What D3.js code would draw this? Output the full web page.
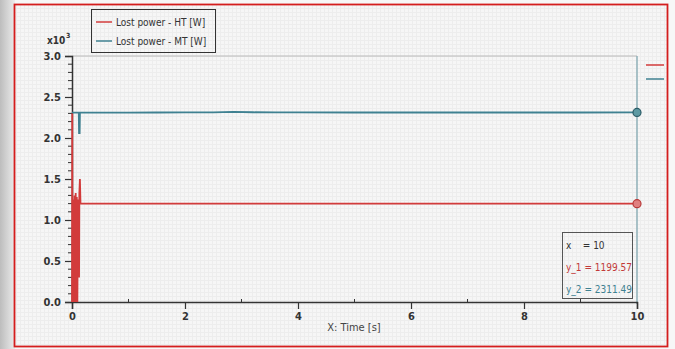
<!DOCTYPE html>
<html><head><meta charset="utf-8">
<script src="https://cdn.jsdelivr.net/npm/d3@7"></script>
<style>
html,body{margin:0;padding:0;background:#fff;}
svg{display:block;}
text{font-family:"Liberation Sans Narrow","DejaVu Sans Condensed","Liberation Sans",sans-serif;white-space:pre;}
</style></head>
<body>
<svg id="c" width="675" height="349"></svg>
<script>
// ---- data ----
const htTime  = [0, 0.004, 0.008, 0.02, 0.03, 0.045, 0.055, 0.065, 0.075, 0.085, 0.095, 0.105, 0.115, 0.125, 0.13, 0.14, 0.15, 0.16, 1, 2, 3, 4, 5, 6, 7, 8, 9, 10];
const htValue = [0, 2300, 0, 1250, 0, 1300, 0, 1330, 0, 1280, 0, 1250, 1180, 300, 1320, 1500, 1200, 1199, 1199, 1199, 1200, 1199, 1200, 1199, 1199, 1200, 1199, 1199.57];
const mtTime  = [0, 0.12, 0.125, 0.135, 0.14, 0.5, 1, 1.5, 2, 2.5, 2.85, 3.2, 3.6, 4, 5, 6, 7, 8, 9, 10];
const mtValue = [2310, 2310, 2060, 2060, 2310, 2310, 2310, 2311, 2312, 2313, 2318, 2314, 2312, 2312, 2311, 2311, 2311, 2311, 2311, 2311.49];
const seriesNames = ["Lost power - HT [W]", "Lost power - MT [W]"];
const seriesColors = ["#d23b3b", "#3f8191"];
const xTicks = [0, 2, 4, 6, 8, 10];
const yTicks = [0, 500, 1000, 1500, 2000, 2500, 3000];
const cursorX = 10;
const readout = ["x    = 10", "y_1 = 1199.57", "y_2 = 2311.49"];

const svg = d3.select("#c");
const W = 675, H = 349;
const L = 72, R = 637, T = 56, B = 302;

// background & frame
const defs = svg.append("defs");
const lg = defs.append("linearGradient").attr("id","sh").attr("x1","0").attr("x2","1");
lg.append("stop").attr("offset","0").attr("stop-color","#bdbdbd");
lg.append("stop").attr("offset","1").attr("stop-color","#ececec");
const pat = defs.append("pattern").attr("id","tex").attr("width",4).attr("height",4).attr("patternUnits","userSpaceOnUse");
pat.append("rect").attr("width",4).attr("height",4).attr("fill","#f6f6f6");
pat.append("path").attr("d","M0,0.5H4M0.5,0V4").attr("stroke","#ededed").attr("stroke-width",1);

svg.append("rect").attr("width",W).attr("height",H).attr("fill","#f7f7f7");
svg.append("rect").attr("x",0).attr("y",0).attr("width",15).attr("height",H).attr("fill","url(#sh)");
svg.append("rect").attr("x",14.5).attr("y",4.5).attr("width",653).attr("height",342)
  .attr("fill","url(#tex)").attr("stroke","#d41e1e").attr("stroke-width",1.8);

const x = d3.scaleLinear().domain([0,10]).range([L,R]);
const y = d3.scaleLinear().domain([0,3000]).range([B,T]);

// plot frame (top) and cursor line
svg.append("line").attr("x1",L).attr("x2",R).attr("y1",T).attr("y2",T).attr("stroke","#b8b8b8");
svg.append("line").attr("x1",x(cursorX)).attr("x2",x(cursorX)).attr("y1",T).attr("y2",B+2).attr("stroke","#8fb0b8").attr("stroke-width",1.5);

// x axis
const xAxis = d3.axisBottom(x).tickValues(xTicks).tickFormat(d3.format("d")).tickSize(7).tickPadding(3);
const gx = svg.append("g").attr("transform",`translate(0,${B})`).call(xAxis);
gx.select(".domain").attr("stroke","#333").attr("stroke-width",1.5);
gx.selectAll(".tick line").attr("stroke","#333").attr("stroke-width",1.2);
gx.selectAll("text").attr("fill","#333").attr("font-size",11).attr("font-weight","bold");
const xMinor = d3.range(1,10,2);
svg.append("g").selectAll("line").data(xMinor).join("line")
  .attr("x1",d=>x(d)).attr("x2",d=>x(d)).attr("y1",B).attr("y2",B-3).attr("stroke","#333");

// y axis
const yAxis = d3.axisLeft(y).tickValues(yTicks).tickFormat(d=>(d/1000).toFixed(1)).tickSize(7).tickPadding(4);
const gy = svg.append("g").attr("transform",`translate(${L},0)`).call(yAxis);
gy.select(".domain").attr("stroke","#333").attr("stroke-width",1.5);
gy.selectAll(".tick line").attr("stroke","#333").attr("stroke-width",1.2);
gy.selectAll("text").attr("fill","#333").attr("font-size",11).attr("font-weight","bold");
const yMinor = d3.range(0,3000,100).filter(v=>v%500!==0);
svg.append("g").selectAll("line").data(yMinor).join("line")
  .attr("x1",L).attr("x2",L-4).attr("y1",d=>y(d)).attr("y2",d=>y(d)).attr("stroke","#333");

// exponent label
svg.append("text").attr("x",47).attr("y",44).attr("fill","#333").attr("font-size",10).attr("font-weight","bold").text("x10");
svg.append("text").attr("x",66).attr("y",38).attr("fill","#333").attr("font-size",7).attr("font-weight","bold").text("3");

// x label
svg.append("text").attr("x",354).attr("y",331).attr("text-anchor","middle").attr("fill","#444").attr("font-size",11).text("X: Time [s]");

// lines
const line = d3.line().x(d=>x(d[0])).y(d=>y(d[1]));
const htData = htTime.map((t,i)=>[t,htValue[i]]);
const mtData = mtTime.map((t,i)=>[t,mtValue[i]]);
svg.append("path").datum(mtData).attr("d",line).attr("fill","none").attr("stroke",seriesColors[1]).attr("stroke-width",1.8);
svg.append("path").datum(htData).attr("d",line).attr("fill","none").attr("stroke",seriesColors[0]).attr("stroke-width",1.8);

// cursor markers
svg.append("circle").attr("cx",x(cursorX)).attr("cy",y(mtValue[mtValue.length-1])).attr("r",4)
  .attr("fill","#5e9aa3").attr("stroke","#2d5d68").attr("stroke-width",1.2);
svg.append("circle").attr("cx",x(cursorX)).attr("cy",y(htValue[htValue.length-1])).attr("r",4)
  .attr("fill","#e08080").attr("stroke","#b83a3a").attr("stroke-width",1.2);

// legend
const lgG = svg.append("g");
lgG.append("rect").attr("x",91.5).attr("y",9.5).attr("width",124).attr("height",43).attr("fill","none").attr("stroke","#333");
seriesNames.forEach((n,i)=>{
  const yy = 22 + i*19;
  lgG.append("line").attr("x1",96).attr("x2",112).attr("y1",yy).attr("y2",yy).attr("stroke",seriesColors[i]).attr("stroke-width",1.5);
  lgG.append("text").attr("x",116).attr("y",yy+3.5).attr("font-size",10).attr("fill","#333").text(n);
});

// right-side markers
seriesColors.forEach((c,i)=>{
  svg.append("line").attr("x1",646).attr("x2",664).attr("y1",65+i*14).attr("y2",65+i*14).attr("stroke",c).attr("stroke-width",1.5);
});

// readout box
svg.append("rect").attr("x",562.5).attr("y",232.5).attr("width",70).attr("height",66).attr("fill","none").attr("stroke","#555");
const rc = ["#333", "#c23a3a", "#3f8191"];
readout.forEach((s,i)=>{
  svg.append("text").attr("x",566).attr("y",249+i*22).attr("font-size",10).attr("fill",rc[i]).text(s);
});
</script>
</body></html>
